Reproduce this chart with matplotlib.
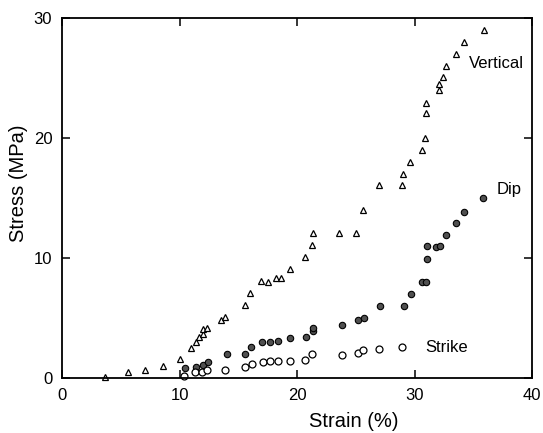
import matplotlib
matplotlib.use("Agg")
import matplotlib.pyplot as plt

plt.rcParams['font.family'] = ['Liberation Sans', 'DejaVu Sans']

# strain (%) / stress (MPa) for the three loading directions
vertical_strain = [3.7, 5.6, 7.1, 8.6, 10.0, 11.0, 11.4, 11.7, 12.0, 12.0, 12.3,
                   13.5, 13.9, 15.6, 16.0, 16.9, 17.5, 18.2, 18.6, 19.4, 20.7,
                   21.3, 21.4, 23.6, 25.0, 25.6, 27.0, 28.9, 29.0, 29.6, 30.6,
                   30.9, 31.0, 31.0, 32.1, 32.1, 32.4, 32.7, 33.5, 34.2, 35.9]
vertical_stress = [0.1, 0.5, 0.7, 1.0, 1.6, 2.5, 3.0, 3.4, 3.7, 4.1, 4.2,
                   4.8, 5.1, 6.1, 7.1, 8.1, 8.0, 8.3, 8.3, 9.1, 10.1,
                   11.1, 12.1, 12.1, 12.1, 14.0, 16.1, 16.1, 17.0, 18.0, 19.0,
                   20.0, 22.1, 22.9, 24.0, 24.5, 25.1, 26.0, 27.0, 28.0, 29.0]

dip_strain = [10.5, 11.4, 12.0, 12.4, 14.0, 15.6, 16.1, 17.0, 17.7, 18.4,
              19.4, 20.8, 21.4, 21.4, 23.8, 25.2, 25.7, 27.1, 29.1, 29.7,
              30.6, 31.0, 31.1, 31.1, 31.8, 32.2, 32.7, 33.5, 34.2, 35.8]
dip_stress = [0.8, 0.9, 1.1, 1.3, 2.0, 2.0, 2.6, 3.0, 3.0, 3.1,
              3.3, 3.4, 3.9, 4.2, 4.4, 4.8, 5.0, 6.0, 6.0, 7.0,
              8.0, 8.0, 9.9, 11.0, 10.9, 11.0, 11.9, 12.9, 13.8, 15.0]

strike_strain = [10.4, 11.3, 11.9, 12.3, 13.9, 15.6, 16.2, 17.1, 17.7, 18.4,
                 19.4, 20.7, 21.3, 23.8, 25.2, 25.6, 27.0, 28.9]
strike_stress = [0.2, 0.5, 0.5, 0.7, 0.7, 0.9, 1.2, 1.3, 1.4, 1.4,
                 1.4, 1.5, 2.0, 1.9, 2.1, 2.3, 2.4, 2.6]

fig = plt.figure(figsize=(5.43, 4.33), dpi=100)
ax = fig.add_axes([62 / 543, 1 - 378 / 433, 470 / 543, 360 / 433])

ax.plot(vertical_strain, vertical_stress, linestyle='none', marker='^',
        ms=4.5, mfc='white', mec='black', mew=0.9, clip_on=False)
ax.plot(dip_strain, dip_stress, linestyle='none', marker='o',
        ms=4.6, mfc='#505050', mec='black', mew=0.8, clip_on=False)
ax.plot(strike_strain, strike_stress, linestyle='none', marker='o',
        ms=5.0, mfc='white', mec='black', mew=0.9, clip_on=False)

ax.text(34.6, 26.2, 'Vertical', fontsize=12, va='center', ha='left')
ax.text(37.0, 15.7, 'Dip', fontsize=12, va='center', ha='left')
ax.text(30.9, 2.5, 'Strike', fontsize=12, va='center', ha='left')

ax.set_xlim(0, 40)
ax.set_ylim(0, 30)
ax.set_xticks([0, 10, 20, 30, 40])
ax.set_yticks([0, 10, 20, 30])
ax.tick_params(direction='in', length=6, width=1.1, top=True, right=True,
               labelsize=12, pad=7)
for s in ax.spines.values():
    s.set_linewidth(1.3)

ax.set_xlabel('Strain (%)', fontsize=14.5, va='center')
ax.xaxis.set_label_coords(0.62, -0.122)
ax.set_ylabel('Stress (MPa)', fontsize=14.5, va='center')
ax.yaxis.set_label_coords(-0.093, 0.54)

fig.savefig('out.png', dpi=100)
